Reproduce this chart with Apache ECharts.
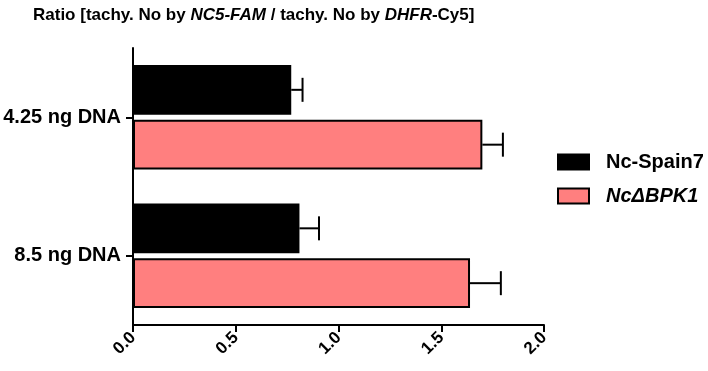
<!DOCTYPE html>
<html>
<head>
<meta charset="utf-8">
<script src="https://cdn.jsdelivr.net/npm/echarts@6/dist/echarts.min.js"></script>
<style>
  html, body { margin: 0; padding: 0; background: #fff; }
  #chart { width: 708px; height: 371px; }
</style>
</head>
<body>
<div id="chart"></div>
<script>
(function() {
  'use strict';

  // categories, top to bottom
  var categories = ['4.25 ng DNA', '8.5 ng DNA'];
  var seriesNames = ['Nc-Spain7', 'NcΔBPK1'];
  var spainMean = [0.77, 0.81];
  var spainErr = [0.055, 0.095];
  var bpkMean = [1.70, 1.64];
  var bpkErr = [0.10, 0.15];
  var xTicks = [0.0, 0.5, 1.0, 1.5, 2.0];

  var font = 'Arial, "Liberation Sans", sans-serif';
  var barWidthPct = 0.36, barGapPct = 0.10;

  function errData(means, errs) {
    return means.map(function (m, i) { return [m, i, m + errs[i]]; });
  }

  // draws whisker from mean to mean+err, shifted to the bar's slot in the group
  function errRender(slot) {
    return function (params, api) {
      var cat = api.value(1);
      var start = api.coord([api.value(0), cat]);
      var end = api.coord([api.value(2), cat]);
      var band = api.size([0, 1])[1];
      var w = band * barWidthPct;
      var off = slot * (w + w * barGapPct) / 2;
      var y = start[1] + off;
      var cap = 12;
      var st = { stroke: '#000', lineWidth: 2 };
      return {
        type: 'group',
        children: [
          { type: 'line', shape: { x1: start[0], y1: y, x2: end[0], y2: y }, style: st },
          { type: 'line', shape: { x1: end[0], y1: y - cap, x2: end[0], y2: y + cap }, style: st }
        ]
      };
    };
  }

  var chart = echarts.init(document.getElementById('chart'));

  chart.setOption({
    animation: false,
    textStyle: { fontFamily: font },
    title: {
      text: 'Ratio [tachy. No by {i|NC5-FAM} / tachy. No by {i|DHFR}-Cy5]',
      left: 28,
      top: 2,
      textStyle: {
        fontFamily: font,
        fontSize: 17,
        fontWeight: 'bold',
        color: '#000',
        rich: {
          i: { fontFamily: font, fontSize: 17, fontWeight: 'bold', fontStyle: 'italic', color: '#000' }
        }
      }
    },
    legend: {
      left: 552,
      top: 147,
      orient: 'vertical',
      itemWidth: 31,
      itemHeight: 15,
      itemGap: 14,
      icon: 'rect',
      data: seriesNames,
      formatter: function (name) {
        return name === seriesNames[1] ? '{i|' + name + '}' : '{b|' + name + '}';
      },
      textStyle: {
        fontFamily: font,
        fontSize: 20,
        fontWeight: 'bold',
        color: '#000',
        padding: [0, 0, 0, 12],
        rich: {
          b: { fontFamily: font, fontSize: 20, fontWeight: 'bold', color: '#000' },
          i: { fontFamily: font, fontSize: 20, fontWeight: 'bold', fontStyle: 'italic', color: '#000' }
        }
      }
    },
    grid: { left: 133, right: 164, top: 48, bottom: 46, containLabel: false },
    xAxis: {
      type: 'value',
      min: xTicks[0],
      max: xTicks[xTicks.length - 1],
      interval: 0.5,
      splitLine: { show: false },
      axisLine: { show: true, lineStyle: { color: '#000', width: 2 } },
      axisTick: { show: true, length: 7, lineStyle: { color: '#000', width: 2 } },
      axisLabel: {
        rotate: 45,
        margin: 10,
        color: '#000',
        fontFamily: font,
        fontSize: 17,
        fontWeight: 'bold',
        formatter: function (v) { return v.toFixed(1); }
      }
    },
    yAxis: {
      type: 'category',
      inverse: true,
      data: categories,
      axisLine: { show: true, lineStyle: { color: '#000', width: 2 } },
      axisTick: { show: true, alignWithLabel: true, length: 7, lineStyle: { color: '#000', width: 2 } },
      axisLabel: {
        margin: 12,
        color: '#000',
        fontFamily: font,
        fontSize: 20,
        fontWeight: 'bold'
      }
    },
    series: [
      {
        name: seriesNames[0],
        type: 'bar',
        data: spainMean,
        barWidth: (barWidthPct * 100) + '%',
        barGap: (barGapPct * 100) + '%',
        itemStyle: { color: '#000', borderColor: '#000', borderWidth: 2 }
      },
      {
        name: seriesNames[1],
        type: 'bar',
        data: bpkMean,
        barWidth: (barWidthPct * 100) + '%',
        barGap: (barGapPct * 100) + '%',
        itemStyle: { color: '#ff7f7f', borderColor: '#000', borderWidth: 2 }
      },
      {
        type: 'custom',
        renderItem: errRender(-1),
        data: errData(spainMean, spainErr),
        encode: { x: [0, 2], y: 1 },
        z: 3
      },
      {
        type: 'custom',
        renderItem: errRender(1),
        data: errData(bpkMean, bpkErr),
        encode: { x: [0, 2], y: 1 },
        z: 3
      }
    ]
  });
})();
</script>
</body>
</html>
